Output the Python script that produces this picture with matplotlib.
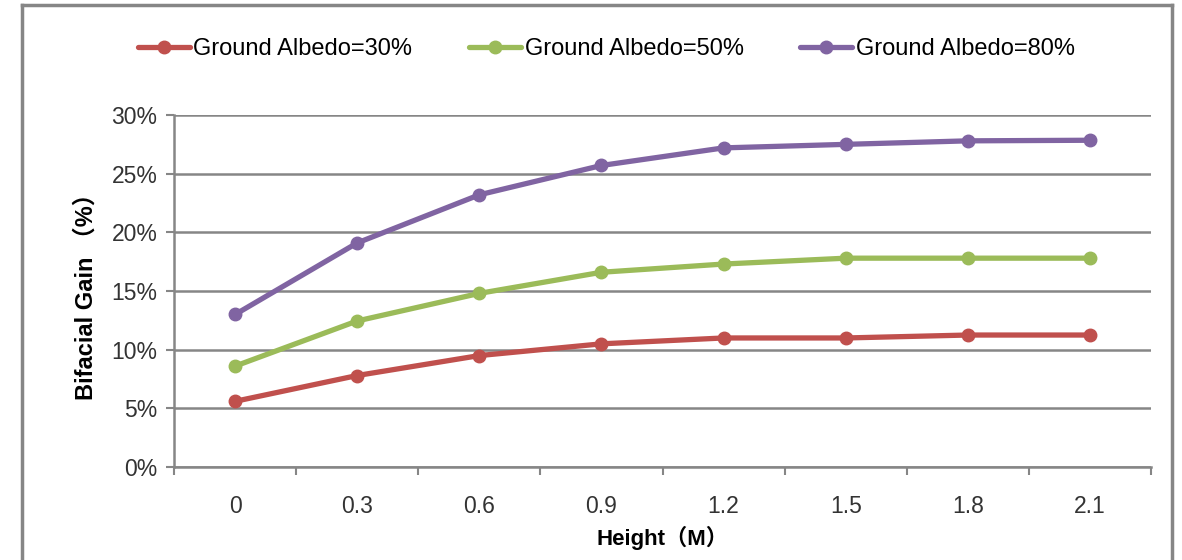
import matplotlib.pyplot as plt
from matplotlib.lines import Line2D

heights = ["0", "0.3", "0.6", "0.9", "1.2", "1.5", "1.8", "2.1"]
albedo_30 = [5.6, 7.8, 9.5, 10.5, 11.0, 11.0, 11.25, 11.25]
albedo_50 = [8.6, 12.45, 14.8, 16.6, 17.3, 17.8, 17.8, 17.8]
albedo_80 = [13.0, 19.1, 23.2, 25.7, 27.2, 27.5, 27.8, 27.85]
series_names = ["Ground Albedo=30%", "Ground Albedo=50%", "Ground Albedo=80%"]
colors = ["#C0504D", "#9BBB59", "#8064A2"]

font = ["Liberation Sans Narrow", "Liberation Sans", "Noto Sans CJK SC"]
plt.rcParams["font.family"] = font

fig = plt.figure(figsize=(11.82, 5.6), dpi=100)
ax = fig.add_axes([0.1472, 0.166, 0.8266, 0.6286])

x = list(range(len(heights)))
for vals, name, c in zip([albedo_30, albedo_50, albedo_80], series_names, colors):
    ax.plot(x, vals, color=c, lw=3.8, marker="o", ms=9, label=name,
            solid_capstyle="round", zorder=3)

ax.set_xlim(-0.5, len(heights) - 0.5)
ax.set_ylim(0, 30)
ax.set_yticks(range(0, 31, 5))
ax.set_yticklabels([f"{v}%" for v in range(0, 31, 5)], fontsize=16.5, color="#333333")
ax.set_xticks(x)
ax.set_xticklabels(heights, fontsize=16.5, color="#333333")
ax.set_xticks([i + 0.5 for i in range(-1, len(heights))], minor=True)
ax.tick_params(axis="x", which="major", length=0, pad=20)
ax.tick_params(axis="x", which="minor", length=6, width=1.5, color="#868686")
ax.tick_params(axis="y", length=6, width=1.5, color="#868686", pad=6)

ax.grid(axis="y", color="#868686", lw=1.8, zorder=1)
for s in ["top", "right"]:
    ax.spines[s].set_visible(False)
for s in ["left", "bottom"]:
    ax.spines[s].set_color("#868686")
    ax.spines[s].set_linewidth(1.8)

ax.set_xlabel("Height（M）", fontsize=16, fontweight="bold",
              family=["Liberation Sans", "Noto Sans CJK SC"], labelpad=6)
ax.set_ylabel("Bifacial Gain （%）", fontsize=17, fontweight="bold",
              family=["Liberation Sans", "Noto Sans CJK SC"], labelpad=10)

fig.legend(loc="center", bbox_to_anchor=(0.513, 0.912), ncol=3, frameon=False,
           fontsize=17, handlelength=2.2, handletextpad=0.15, columnspacing=2.4)

# outer chart frame
fig.add_artist(Line2D([22 / 1182, 22 / 1182], [0, 1 - 5 / 560], color="#868686", lw=2.5))
fig.add_artist(Line2D([1172 / 1182, 1172 / 1182], [0, 1 - 5 / 560], color="#868686", lw=2.5))
fig.add_artist(Line2D([22 / 1182, 1172 / 1182], [1 - 5 / 560, 1 - 5 / 560], color="#868686", lw=2.5))

fig.savefig("out.png", dpi=100)
